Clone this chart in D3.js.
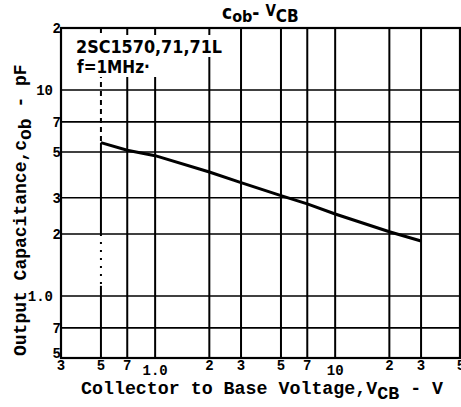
<!DOCTYPE html>
<html>
<head>
<meta charset="utf-8">
<script src="https://cdn.jsdelivr.net/npm/d3@7"></script>
<style>
  body { margin: 0; background: #fff; }
  text { font-family: "Liberation Mono", monospace; font-weight: bold; fill: #000; }
</style>
</head>
<body>
<script>
// Cob - VCB, 2SC1570
var vcb = [0.5, 0.7, 1.0, 2, 3, 5, 7, 10, 20, 30];
var cob = [5.55, 5.1, 4.8, 4.0, 3.55, 3.07, 2.8, 2.5, 2.05, 1.85];

var xGrid = [0.5, 0.7, 1, 2, 3, 5, 7, 10, 20, 30];
var yGrid = [0.7, 1, 2, 3, 5, 7, 10];
var xTicks = [0.3, 0.5, 0.7, 1, 2, 3, 5, 7, 10, 20, 30, 50];
var xTickLabels = ['3', '5', '7', '1.0', '2', '3', '5', '7', '10', '2', '3', '5'];
var yTicks = [0.5, 0.7, 1, 2, 3, 5, 7, 10, 20];
var yTickLabels = ['5', '7', '1.0', '2', '3', '5', '7', '10', '2'];

var W = 461, H = 407;
var svg = d3.select('body').append('svg')
    .attr('width', W)
    .attr('height', H);

var x = d3.scaleLog().domain([0.3, 50]).range([61, 461]);
var y = d3.scaleLog().domain([0.5, 20]).range([358, 28]);

// horizontal grid
svg.selectAll('.hg').data(yGrid).enter().append('line')
    .attr('x1', x(0.3)).attr('x2', x(50))
    .attr('y1', function(d) { return y(d); })
    .attr('y2', function(d) { return y(d); })
    .attr('stroke', '#000').attr('stroke-width', 1.6);

// vertical grid (0.5 V line drawn separately, partly dashed)
svg.selectAll('.vg').data(xGrid.slice(1)).enter().append('line')
    .attr('x1', function(d) { return x(d); })
    .attr('x2', function(d) { return x(d); })
    .attr('y1', y(20)).attr('y2', y(0.5))
    .attr('stroke', '#000').attr('stroke-width', 2);

var seg05 = [[20, 5.55, '5,4'], [5.55, 2, null], [2, 1.12, '2,6'], [1.12, 0.5, null]];
svg.selectAll('.v05').data(seg05).enter().append('line')
    .attr('x1', x(0.5)).attr('x2', x(0.5))
    .attr('y1', function(d) { return y(d[0]); })
    .attr('y2', function(d) { return y(d[1]); })
    .attr('stroke', '#000').attr('stroke-width', 2)
    .attr('stroke-dasharray', function(d) { return d[2]; });

// frame
svg.append('rect')
    .attr('x', x(0.3)).attr('y', y(20))
    .attr('width', x(50) - x(0.3) - 1).attr('height', y(0.5) - y(20))
    .attr('fill', 'none').attr('stroke', '#000').attr('stroke-width', 2.2);

// note box behind text
svg.append('rect').attr('x', 72).attr('y', 35).attr('width', 152).attr('height', 22).attr('fill', '#fff');
svg.append('rect').attr('x', 72).attr('y', 57).attr('width', 88).attr('height', 20).attr('fill', '#fff');

svg.append('text').attr('x', 76).attr('y', 53)
    .style('font-family', '"Liberation Sans Narrow", "DejaVu Sans Condensed", sans-serif')
    .style('font-size', '17px')
    .attr('textLength', 146).attr('lengthAdjust', 'spacingAndGlyphs')
    .text('2SC1570,71,71L');
svg.append('text').attr('x', 77).attr('y', 73)
    .style('font-family', '"Liberation Sans Narrow", "DejaVu Sans Condensed", sans-serif')
    .style('font-size', '17px')
    .text('f=1MHz·');

// curve
var line = d3.line()
    .x(function(d, i) { return x(vcb[i]); })
    .y(function(d) { return y(d); });
svg.append('path')
    .datum(cob)
    .attr('d', line)
    .attr('fill', 'none')
    .attr('stroke', '#000')
    .attr('stroke-width', 3);

// x tick labels
svg.selectAll('.xl').data(xTicks).enter().append('text')
    .attr('x', function(d) { return x(d); })
    .attr('y', function(d, i) { return xTickLabels[i].length > 1 ? 375 : 370; })
    .attr('text-anchor', 'middle')
    .style('font-size', '14px')
    .text(function(d, i) { return xTickLabels[i]; });

// y tick labels
svg.selectAll('.yl').data(yTicks).enter().append('text')
    .attr('x', function(d, i) { return yTickLabels[i].length > 1 ? 53 : 61; })
    .attr('y', function(d, i) { return y(d) + (i == 0 ? 0 : 5); })
    .attr('text-anchor', 'end')
    .style('font-size', '14px')
    .text(function(d, i) { return yTickLabels[i]; });

// axis titles
var xt = svg.append('text').attr('x', 81).attr('y', 394).style('font-size', '18.3px');
xt.append('tspan').text('Collector to Base Voltage,V');
xt.append('tspan').attr('dy', 5).text('CB');
xt.append('tspan').attr('dy', -5).text(' - V');

var yt = svg.append('text')
    .attr('transform', 'translate(26,356) rotate(-90)')
    .style('font-size', '18px');
yt.append('tspan').text('Output Capacitance,c');
yt.append('tspan').attr('dy', 5).text('ob');
yt.append('tspan').attr('dy', -5).text(' - pF');

// chart title
var tt = svg.append('text').attr('x', 222).attr('y', 19)
    .style('font-family', '"DejaVu Sans Condensed", "DejaVu Sans", sans-serif')
    .style('font-size', '19px');
tt.append('tspan').text('c');
tt.append('tspan').attr('dy', 3).style('font-size', '16px').text('ob');
tt.append('tspan').attr('dy', -3).text('- ');
tt.append('tspan').attr('dy', -3).style('font-size', '15px').text('V');
tt.append('tspan').attr('dy', 6).style('font-size', '17px').text('CB');
</script>
</body>
</html>
